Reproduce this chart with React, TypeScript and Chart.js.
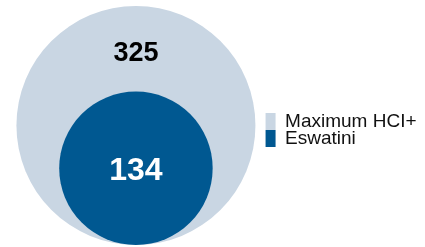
import React, { useEffect, useRef } from "react";
import { Chart, registerables } from "chart.js";

Chart.register(...registerables);

const categories = ["Maximum HCI+", "Eswatini"];
const values = [325, 134];
const colors = ["#c9d6e3", "#005891"];
const labelColors = ["#000000", "#ffffff"];
const labelSizes = [27, 32];

export default function App() {
  const ref = useRef<HTMLCanvasElement | null>(null);

  useEffect(() => {
    document.body.style.margin = "0";
    const canvas = ref.current;
    if (!canvas) return;

    // circle area proportional to value: radius = sqrt(value) in y-axis units
    const radiusFor = (ctx: any) => {
      const raw = ctx.raw;
      const y = ctx.chart.scales.y;
      if (!raw || !y) return 0;
      const r = Math.abs(y.getPixelForValue(Math.sqrt(raw.v)) - y.getPixelForValue(0));
      return isFinite(r) ? r : 0;
    };

    const labelPlugin = {
      id: "circleLabels",
      afterDatasetsDraw(chart: any) {
        const c = chart.ctx;
        chart.data.datasets.forEach((ds: any, i: number) => {
          const el = chart.getDatasetMeta(i).data[0];
          if (!el) return;
          const r = el.options.radius;
          const size = labelSizes[i];
          c.save();
          c.fillStyle = labelColors[i];
          c.font = `bold ${size}px "Liberation Sans", Arial, sans-serif`;
          c.textAlign = "center";
          c.textBaseline = "alphabetic";
          const mid = i === 0 ? el.y - r * 0.622 : el.y;
          c.fillText(String(ds.data[0].v), el.x, mid + size * 0.358);
          c.restore();
        });
      },
    };

    const chart = new Chart(canvas, {
      type: "scatter",
      data: {
        datasets: categories.map((name, i) => ({
          label: name,
          data: [{ x: 0, y: Math.sqrt(values[i]), v: values[i] }],
          backgroundColor: colors[i],
          borderColor: colors[i],
          borderWidth: 0,
          pointRadius: radiusFor,
          pointHoverRadius: radiusFor,
          pointBorderWidth: 0,
          clip: false,
          order: categories.length - i,
        })) as any,
      },
      options: {
        animation: false,
        responsive: false,
        events: [],
        layout: { padding: { left: 17, top: 15, bottom: 2, right: -1.5 } },
        scales: {
          x: { display: false, min: -1, max: 1.09 },
          y: {
            display: false,
            min: 0,
            max: (Math.sqrt(values[0]) * 230) / 119.5,
          },
        },
        plugins: {
          tooltip: { enabled: false },
          legend: {
            position: "right",
            align: "center",
            labels: {
              boxWidth: 12,
              boxHeight: 17,
              padding: -2,
              color: "#111111",
              font: { size: 19, family: '"Liberation Sans", Arial, sans-serif' },
              sort: (a: any, b: any) => a.datasetIndex - b.datasetIndex,
              generateLabels: (chart: any) => {
                const items = (Chart.defaults.plugins.legend.labels as any).generateLabels(chart);
                return items.map((it: any) => ({
                  ...it,
                  lineWidth: 0,
                  borderRadius: 0,
                  pointStyle: undefined,
                }));
              },
            },
          },
        },
      } as any,
      plugins: [labelPlugin],
    });

    return () => chart.destroy();
  }, []);

  return (
    <div style={{ position: "absolute", left: 0, top: 0, width: 425, height: 247 }}>
      <canvas ref={ref} width={425} height={247} style={{ width: 425, height: 247 }} />
    </div>
  );
}
